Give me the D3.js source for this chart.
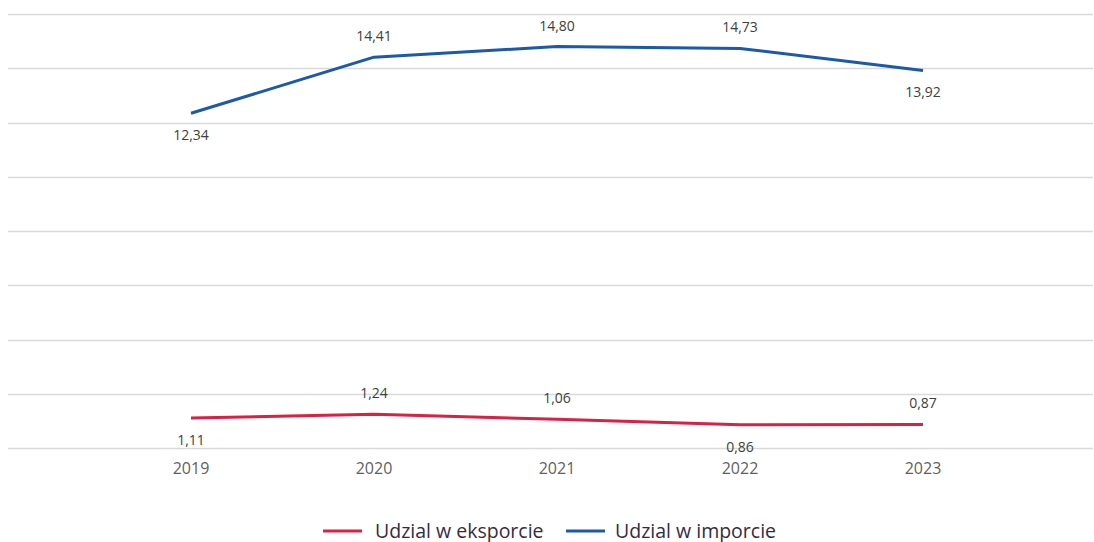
<!DOCTYPE html>
<html>
<head>
<meta charset="utf-8">
<script src="https://cdn.jsdelivr.net/npm/d3@7"></script>
<style>
  html, body { margin: 0; padding: 0; background: #fff; }
  svg { display: block; }
</style>
</head>
<body>
<div id="chart"></div>
<script>
const years = ['2019', '2020', '2021', '2022', '2023']
const eksport = [1.11, 1.24, 1.06, 0.86, 0.87]
const import_ = [12.34, 14.41, 14.80, 14.73, 13.92]
const yTicks = [0, 2, 4, 6, 8, 10, 12, 14, 16]
const seriesNames = ['Udzial w eksporcie', 'Udzial w imporcie']
const seriesColors = ['#dc1f45', '#1a5aa8']

const width = 1094
const height = 542
const gridLeft = 8
const gridRight = 1093

const x = d3.scalePoint().domain(years).range([191, 923])
const y = d3.scaleLinear().domain([0, 16]).range([448, 14])

const fmt = v => d3.format('.2f')(v).replace('.', ',')

const svg = d3
  .select('#chart')
  .append('svg')
  .attr('width', width)
  .attr('height', height)
  .attr('font-family', '"Open Sans", sans-serif')

// grid
svg
  .append('g')
  .selectAll('line')
  .data(yTicks)
  .join('line')
  .attr('x1', gridLeft)
  .attr('x2', gridRight)
  .attr('y1', d => Math.round(y(d)) + 0.5)
  .attr('y2', d => Math.round(y(d)) + 0.5)
  .attr('stroke', '#d9d9d9')
  .attr('stroke-width', 1.5)

// x axis labels
svg
  .append('g')
  .selectAll('text')
  .data(years)
  .join('text')
  .attr('x', d => x(d))
  .attr('y', 474)
  .attr('text-anchor', 'middle')
  .attr('font-size', 16)
  .attr('fill', '#5f5f5f')
  .text(d => d)

const series = [eksport, import_]
const line = d3
  .line()
  .x((d, i) => x(years[i]))
  .y(d => y(d))

series.forEach((vals, s) => {
  svg
    .append('path')
    .datum(vals)
    .attr('fill', 'none')
    .attr('stroke', seriesColors[s])
    .attr('stroke-width', 3)
    .attr('stroke-linejoin', 'round')
    .attr('d', line)

  // label goes below when the point is lower than every neighbour
  const below = i => {
    const nb = [vals[i - 1], vals[i + 1]].filter(v => v != null)
    return nb.every(v => vals[i] < v)
  }

  svg
    .append('g')
    .selectAll('text')
    .data(vals)
    .join('text')
    .attr('x', (d, i) => x(years[i]))
    .attr('y', (d, i) => (below(i) ? y(d) + 27 : y(d) - 16))
    .attr('text-anchor', 'middle')
    .attr('font-size', 14)
    .attr('fill', '#404040')
    .text(d => fmt(d))
})

// legend
const legendX = [323, 566]
const legend = svg
  .append('g')
  .selectAll('g')
  .data(seriesNames)
  .join('g')
  .attr('transform', (d, i) => `translate(${legendX[i]},531)`)

legend
  .append('line')
  .attr('x1', 0)
  .attr('x2', 39)
  .attr('stroke', (d, i) => seriesColors[i])
  .attr('stroke-width', 3)

legend
  .append('text')
  .attr('x', (d, i) => (i ? 49 : 52))
  .attr('y', 6.5)
  .attr('font-size', 19.5)
  .attr('fill', '#352c44')
  .text(d => d)
</script>
</body>
</html>
